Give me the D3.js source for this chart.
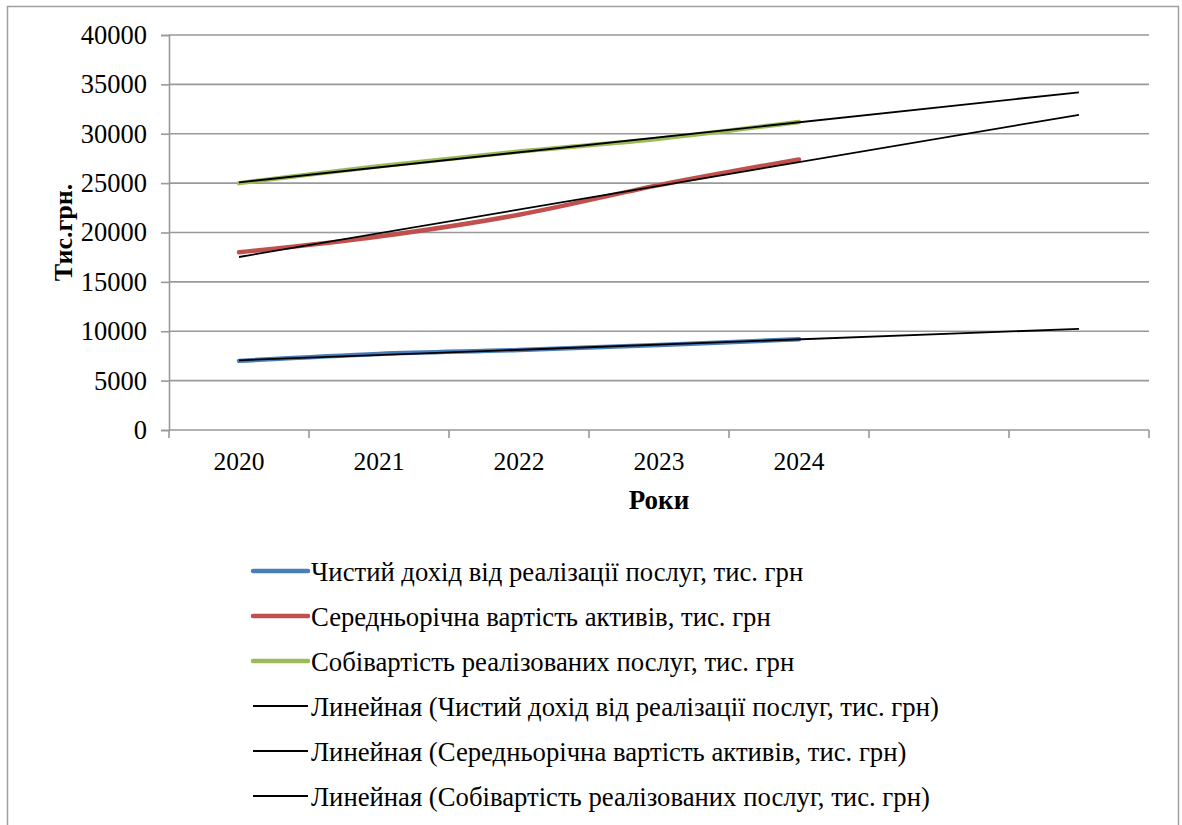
<!DOCTYPE html>
<html lang="uk">
<head>
  <meta charset="UTF-8">
  <title>Динаміка показників, тис. грн</title>
  <script src="https://d3js.org/d3.v7.min.js"></script>
  <style>
    body { margin: 0; background: #fff; }
    text { font-family: "Liberation Serif", "Times New Roman", serif; fill: #000; }
    .grid line { stroke: #999; stroke-width: 1.6px; }
    .axis path, .axis line { stroke: #999; stroke-width: 1.6px; }
  </style>
</head>
<body>
  <svg width="1182" height="825"></svg>
  <script>
    // Data
    const years = ["2020", "2021", "2022", "2023", "2024"];
    const slots = 7; // two empty forecast periods for the trend lines
    const revenue = [7000, 7700, 8100, 8600, 9200];
    const assets  = [18000, 19600, 21800, 24800, 27400];
    const costs   = [25000, 26700, 28200, 29500, 31200];
    const yTicks  = [0, 5000, 10000, 15000, 20000, 25000, 30000, 35000, 40000];

    const seriesNames = [
      "Чистий дохід від реалізації послуг, тис. грн",
      "Середньорічна вартість активів, тис. грн",
      "Собівартість реалізованих послуг, тис. грн"
    ];
    const seriesColors = ["#4a7ebb", "#c0504d", "#9bbb59"];
    const seriesValues = [revenue, assets, costs];

    const svg = d3.select("svg");
    const margin = { left: 169, right: 1149, top: 35, bottom: 430 };

    // outer frame
    svg.append("rect")
      .attr("x", 7.5).attr("y", 6.5)
      .attr("width", 1171).attr("height", 830)
      .attr("fill", "none").attr("stroke", "#a0a0a0").attr("stroke-width", 1.5);

    const x = d3.scaleBand()
      .domain(d3.range(slots))
      .range([margin.left, margin.right])
      .paddingInner(0).paddingOuter(0);
    const cx = i => x(i) + x.bandwidth() / 2;

    const y = d3.scaleLinear()
      .domain([0, 40000])
      .range([margin.bottom, margin.top]);

    // horizontal gridlines
    svg.append("g").attr("class", "grid")
      .selectAll("line")
      .data(yTicks.filter(d => d > 0))
      .join("line")
        .attr("x1", margin.left).attr("x2", margin.right)
        .attr("y1", d => y(d)).attr("y2", d => y(d));

    // y axis
    const yAxis = svg.append("g").attr("class", "axis")
      .attr("transform", `translate(${margin.left},0)`)
      .call(d3.axisLeft(y).tickValues(yTicks).tickSize(8).tickPadding(14).tickFormat(d3.format("d")));
    yAxis.attr("font-family", null);
    yAxis.selectAll("text").attr("font-size", 26.5);

    // x axis: ticks at band edges
    const xAxisG = svg.append("g").attr("class", "axis");
    xAxisG.append("line")
      .attr("x1", margin.left).attr("x2", margin.right)
      .attr("y1", margin.bottom).attr("y2", margin.bottom);
    xAxisG.selectAll(".tk")
      .data(d3.range(slots + 1))
      .join("line").attr("class", "tk")
        .attr("x1", i => margin.left + i * x.bandwidth())
        .attr("x2", i => margin.left + i * x.bandwidth())
        .attr("y1", margin.bottom).attr("y2", margin.bottom + 8);
    xAxisG.selectAll("text")
      .data(years)
      .join("text")
        .attr("x", (d, i) => cx(i))
        .attr("y", 470)
        .attr("text-anchor", "middle")
        .attr("font-size", 25.5)
        .text(d => d);

    // axis titles
    svg.append("text")
      .attr("x", (margin.left + margin.right) / 2).attr("y", 509)
      .attr("text-anchor", "middle")
      .attr("font-size", 27).attr("font-weight", "bold")
      .text("Роки");
    svg.append("text")
      .attr("transform", `translate(72,${(margin.top + margin.bottom) / 2}) rotate(-90)`)
      .attr("text-anchor", "middle")
      .attr("font-size", 26).attr("font-weight", "bold")
      .text("Тис.грн.");

    // linear trend (least squares) extended over the empty periods
    function trend(vals) {
      const n = vals.length;
      const xs = d3.range(n);
      const mx = d3.mean(xs), my = d3.mean(vals);
      const b = d3.sum(xs, i => (i - mx) * (vals[i] - my)) / d3.sum(xs, i => (i - mx) ** 2);
      const a = my - b * mx;
      return [[0, a], [slots - 1, a + b * (slots - 1)]];
    }

    const line = d3.line()
      .x((d, i) => cx(i))
      .y(d => y(d))
      .curve(d3.curveCatmullRom.alpha(0.5));

    const plot = svg.append("g");
    seriesValues.forEach((vals, k) => {
      plot.append("path")
        .attr("d", line(vals))
        .attr("fill", "none")
        .attr("stroke", seriesColors[k])
        .attr("stroke-width", 4.5)
        .attr("stroke-linecap", "round");
    });
    seriesValues.forEach(vals => {
      const t = trend(vals);
      plot.append("line")
        .attr("x1", cx(t[0][0])).attr("y1", y(t[0][1]))
        .attr("x2", cx(t[1][0])).attr("y2", y(t[1][1]))
        .attr("stroke", "#000").attr("stroke-width", 1.8);
    });

    // legend
    const legendItems = seriesNames.map((n, k) => ({ name: n, color: seriesColors[k], w: 4.5 }))
      .concat(seriesNames.map(n => ({ name: "Линейная (" + n + ")", color: "#000", w: 2 })));
    const legend = svg.append("g").selectAll("g")
      .data(legendItems)
      .join("g")
        .attr("transform", (d, i) => `translate(0,${571 + i * 45})`);
    legend.append("line")
      .attr("x1", 253).attr("x2", 308)
      .attr("stroke", d => d.color).attr("stroke-width", d => d.w)
      .attr("stroke-linecap", d => d.w > 3 ? "round" : "butt");
    legend.append("text")
      .attr("x", 311).attr("y", 10)
      .attr("font-size", 26.7)
      .text(d => d.name);
  </script>
</body>
</html>
